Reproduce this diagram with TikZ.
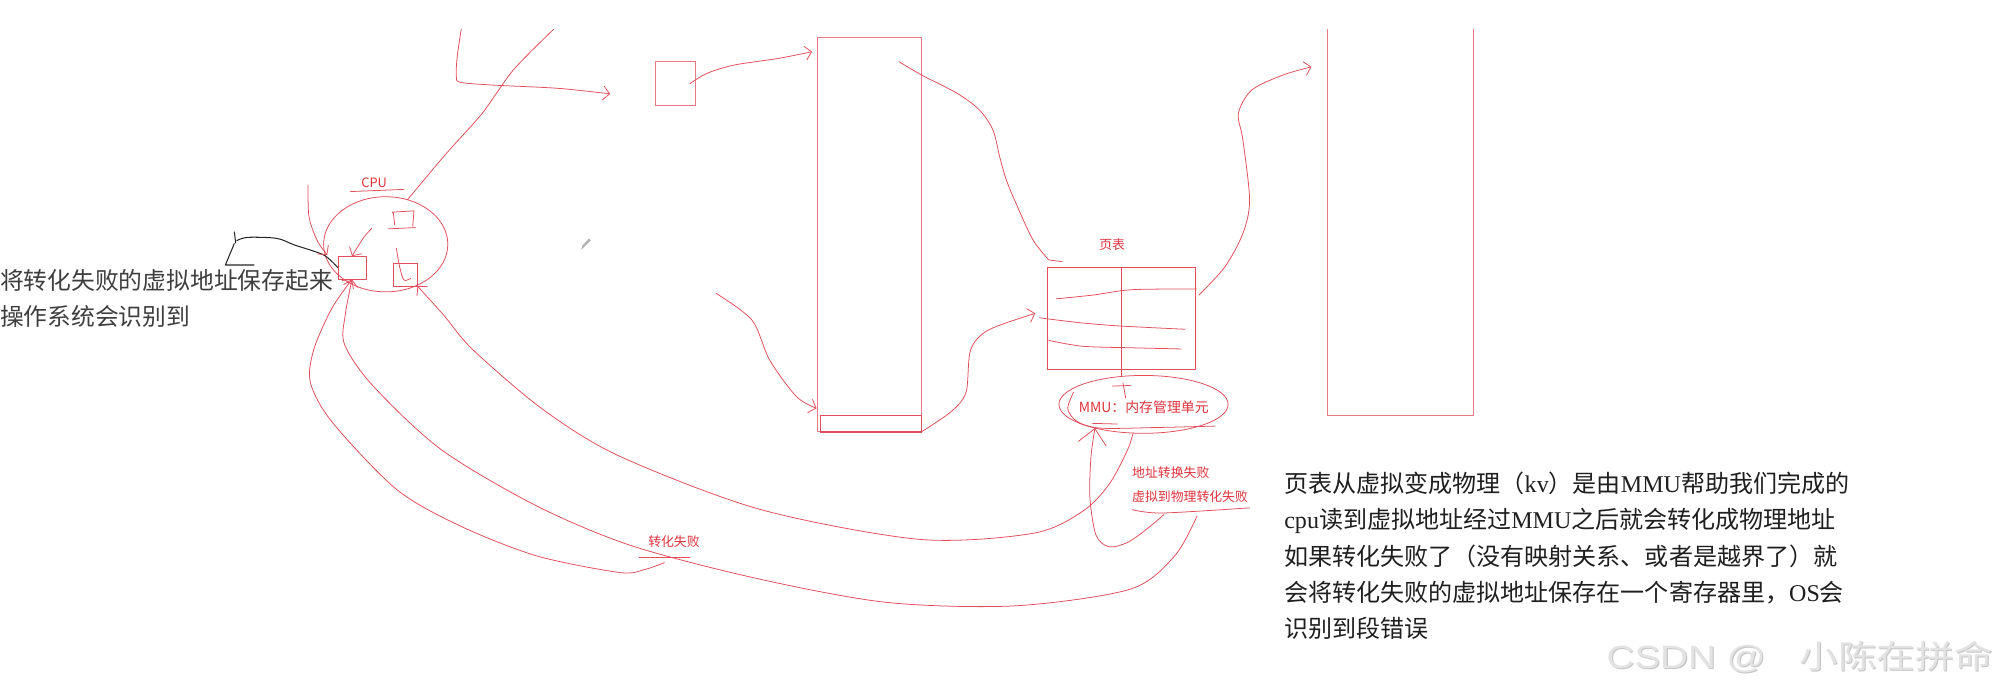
\documentclass[tikz,border=0pt]{standalone}
\usepackage{fontspec}
\newfontfamily\cjk{Noto Sans CJK SC}
\newfontfamily\serifla{Liberation Serif}
\newfontfamily\sansla{Liberation Sans}
\usetikzlibrary{shapes.geometric, arrows.meta}

\definecolor{sketchred}{RGB}{226,78,90}
\definecolor{boxred}{RGB}{232,122,132}
\definecolor{labelred}{RGB}{222,52,60}
\definecolor{notegray}{RGB}{62,62,62}

\begin{document}
\begin{tikzpicture}[
    x=1pt, y=-1pt,
    every node/.style={inner sep=0pt, outer sep=0pt},
    pen/.style={draw=sketchred, line width=0.6pt, line cap=round, line join=round},
    penarrow/.style={pen, -{Straight Barb[length=5pt, width=11pt]}},
    bigarrow/.style={pen, -{Straight Barb[length=12pt, width=22pt]}},
    box/.style={rectangle, draw=boxred, line width=0.6pt},
    oval/.style={ellipse, draw=sketchred, line width=0.6pt},
    redlabel/.style={text=labelred, font=\cjk\fontsize{10}{12}\selectfont},
    blacknote/.style={text=notegray, font=\cjk\fontsize{18.5}{22}\selectfont, anchor=base west},
    desc/.style={text=black!88, font=\cjk\fontsize{18.7}{22}\selectfont, anchor=base west}
]

% -------------------------
% Canvas
% -------------------------
    \useasboundingbox (0,0) rectangle (1568,538);
    \fill[white] (0,0) rectangle (1568,538);
    \clip (0,0) rectangle (1568,538);

% -------------------------
% CPU
% -------------------------
    \node[oval, minimum width=96.6pt, minimum height=74pt] (cpu) at (300,190) {};
    \node[redlabel] (cpulabel) at (291,142) {CPU};
    \draw[pen] (272.6,149) -- (314.2,147.3);
    \node[box, draw=sketchred, minimum width=22pt, minimum height=18pt] (regL) at (273.8,208.2) {};
    \node[box, draw=sketchred, minimum width=19pt, minimum height=17.7pt] (regR) at (315.2,213.7) {};

    % little register glyph inside the CPU
    \draw[pen] (307,175) -- (306,166) -- (305,165) -- (322,164) -- (321,176);
    \draw[pen] (302,178) -- (323,177);
    \draw[penarrow] (289.2,177.6) .. controls (283,184) .. (regL.north);
    \draw[pen] plot[smooth] coordinates {(308.3,193.2) (310.8,207.4) (314.2,217.8) (319.4,216.5)};

% -------------------------
% Notes
% -------------------------
    \node[blacknote] (note1) at (0,224.8) {将转化失败的虚拟地址保存起来};
    \node[blacknote] (note2) at (0,253.3) {操作系统会识别到};
    \draw[black!85, line width=0.8pt, line join=round]
        plot[smooth, tension=0.5] coordinates {(regL.west) (251.7,198.3) (229.2,190.6) (215.3,185.4) (192.7,184.6) (184,187.2)};
    \draw[black!85, line width=0.8pt] (182.3,180.2) -- (183.3,189.3);
    \draw[black!85, line width=0.8pt, line join=round] (182.3,189.3) -- (175.3,206.1) -- (197.9,206.1);

    \node[desc] (desc1) at (998.9,383) {页表从虚拟变成物理（{\serifla kv}）是由{\serifla MMU}帮助我们完成的};
    \node[desc] (desc2) at (998.9,411.3) {{\serifla cpu}读到虚拟地址经过{\serifla MMU}之后就会转化成物理地址};
    \node[desc] (desc3) at (998.9,439.6) {如果转化失败了（没有映射关系、或者是越界了）就};
    \node[desc] (desc4) at (998.9,467.9) {会将转化失败的虚拟地址保存在一个寄存器里，{\serifla OS}会};
    \node[desc] (desc5) at (998.9,496.2) {识别到段错误};

    \node[text=gray!45, font=\cjk\fontsize{25}{30}\selectfont, anchor=west, xscale=1.2] (markshadow) at (1250.4,511.5) {{\sansla CSDN @}\hspace{22pt}小陈在拼命};
    \node[text=gray!22, font=\cjk\fontsize{25}{30}\selectfont, anchor=west, xscale=1.2] (mark) at (1249.6,510.7) {{\sansla CSDN @}\hspace{22pt}小陈在拼命};

% -------------------------
% Virtual address and memory
% -------------------------
    \node[box, minimum width=31.2pt, minimum height=34.2pt] (vaddr) at (525,65.1) {};
    \node[box, minimum width=80.9pt, minimum height=306.8pt] (mem) at (676.3,182.4) {};
    \node[box, draw=sketchred, minimum width=78.8pt, minimum height=13pt, anchor=south east] (slot) at (mem.south east) {};
    \draw[sketchred, line width=1.3pt] (slot.south west) -- (slot.south east);

    \coordinate (topA) at (358.7,22.8);
    \coordinate (topB) at (430.6,22.8);
    \coordinate (vin) at (474.5,73);
    \coordinate (memin) at (631.6,40.2);
    \coordinate (slotfrom) at (557,228.2);
    \coordinate (slotin) at (635.1,317.6);

    \draw[penarrow] plot[smooth, tension=0.5] coordinates {(topA) (355.5,45) (354.9,59.6) (358,64) (381.9,66.1) (434,68.7) (vin)};
    \draw[pen] plot[smooth] coordinates {(cpu.64) (347.2,119.3) (375,88.2) (399.3,54.4) (topB)};
    \draw[penarrow] plot[smooth] coordinates {(239.6,143.9) (240.3,168.5) (246.5,186.7) (254.5,198.3)};
    \draw[penarrow] plot[smooth] coordinates {([xshift=-4pt]vaddr.east) (550,57) (570.9,50.6) (605.6,45.4) (memin)};
    \draw[penarrow] plot[smooth] coordinates {(slotfrom) (584.8,248.9) (598.6,280) (619.5,308.5) (slotin)};

% -------------------------
% Page table and MMU
% -------------------------
    \node[box, draw=sketchred, minimum width=115pt, minimum height=79pt] (pt) at (872.5,247.5) {};
    \node[redlabel] (ptlabel) at (865,190) {页表};
    \node[oval, minimum width=131.6pt, minimum height=45pt] (mmu) at (889.4,314.5) {};
    \node[redlabel, font=\cjk\fontsize{10.8}{12}\selectfont] (mmutext) at (889.6,316.7) {MMU：内存管理单元};
    \draw[pen] (pt.north) -- (pt.north |- mmu.north);

    % page table rows
    \draw[pen] plot[smooth] coordinates {(821.5,232.4) (850,229.5) (880.6,225.3) (930.8,224.8)};
    \draw[pen] plot[smooth] coordinates {(808.6,247.2) (840,251) (870.3,253.5) (921.8,256.1)};
    \draw[pen] plot[smooth] coordinates {(815.8,264.8) (842,269.3) (880,270.5) (918.7,271.4)};

    % hand strokes on the MMU
    \draw[pen] plot[smooth] coordinates {(835,305) (830.5,318) (838,328) (856,333) (900,332.5) (945,331.4)};
    \draw[pen] (865.2,300.3) -- (879.3,299.8);
    \draw[pen] (873.4,297.7) -- (875.5,309.5);
    \draw[pen] (849.8,329.3) -- (869.1,329.8);

    \coordinate (memtop) at (699.3,48);
    \coordinate (pthook) at (826.1,203.5);
    \coordinate (ptin) at (805.2,243.7);
    \coordinate (ptout) at (932.5,229.5);
    \coordinate (physin) at (1020,52);

    \draw[pen] plot[smooth] coordinates {(memtop) (716.7,58.3) (744.5,72.6) (761.8,85.6) (772.3,101.1) (777.5,121.9) (782.7,140) (791.3,160.7) (803.5,186.7) (815.7,202.2)} -- (pthook);
    \draw[penarrow] plot[smooth] coordinates {(slot.south east) (740,320) (751.4,305) (754.9,272.2) (768.8,256.7) (ptin)};
    \draw[penarrow] plot[smooth] coordinates {(ptout) (952.8,207.4) (966.7,181.5) (971.9,155.6) (966.7,108.9) (963.2,88.2) (973.6,70) (998,58.3) (physin)};

% -------------------------
% Physical memory
% -------------------------
    \node[minimum width=113.7pt, minimum height=300pt] (phys) at (1089,172.7) {};
    \draw[boxred, line width=0.6pt] (phys.north west) -- (phys.south west) -- (phys.south east) -- (phys.north east);

% -------------------------
% Failure paths
% -------------------------
    \node[redlabel, anchor=west] (faila) at (880.6,367.4) {地址转换失败};
    \node[redlabel, anchor=west] (failb) at (880.6,385.9) {虚拟到物理转化失败};
    \draw[pen] plot[smooth] coordinates {(880.6,396.4) (903.8,399) (971.9,395)};
    \node[redlabel] (failc) at (524.2,421.5) {转化失败};
    \draw[pen] (497,433.7) -- (536.7,433.7);

    \coordinate (loopfrom) at (905,400.3);
    \coordinate (labelend) at (931,401.4);
    \coordinate (failend) at (516.8,437.6);

    \draw[bigarrow] plot[smooth] coordinates {(loopfrom) (896,408.2) (878,421.4) (862.6,425.3) (852.4,416.1) (847.7,387.2) (848.5,355.6) (mmu.206)};
    \draw[penarrow] plot[smooth] coordinates {(mmu.250) (876.8,350.3) (862.6,376.7) (842,397.7) (803.5,414.8) (715.2,419.5) (591.2,396.2) (482.1,354.9) (422.6,318.7) (368,272.2) (345,245) (regR.south east)};
    \draw[penarrow] plot[smooth] coordinates {(labelend) (913.6,432.4) (878.9,458.3) (789.6,471.2) (690.4,468.6) (591.2,450.5) (492,424.7) (417.6,393.6) (343.2,349.7) (290,300) (268,268) (268.5,245) (regL.south)};
    \draw[penarrow] plot[smooth] coordinates {(failend) (501.9,442.8) (482.1,445.3) (417.6,432.4) (358,409.1) (308.5,380.7) (258.9,329) (241.5,298) (244,272) (258,240) (regL.south)};

    % pencil cursor
    \fill[gray!60] (452,194.5) -- (453,191) -- (458,185.5) -- (459.5,187) -- (454,192.5) -- cycle;
\end{tikzpicture}
\end{document}
